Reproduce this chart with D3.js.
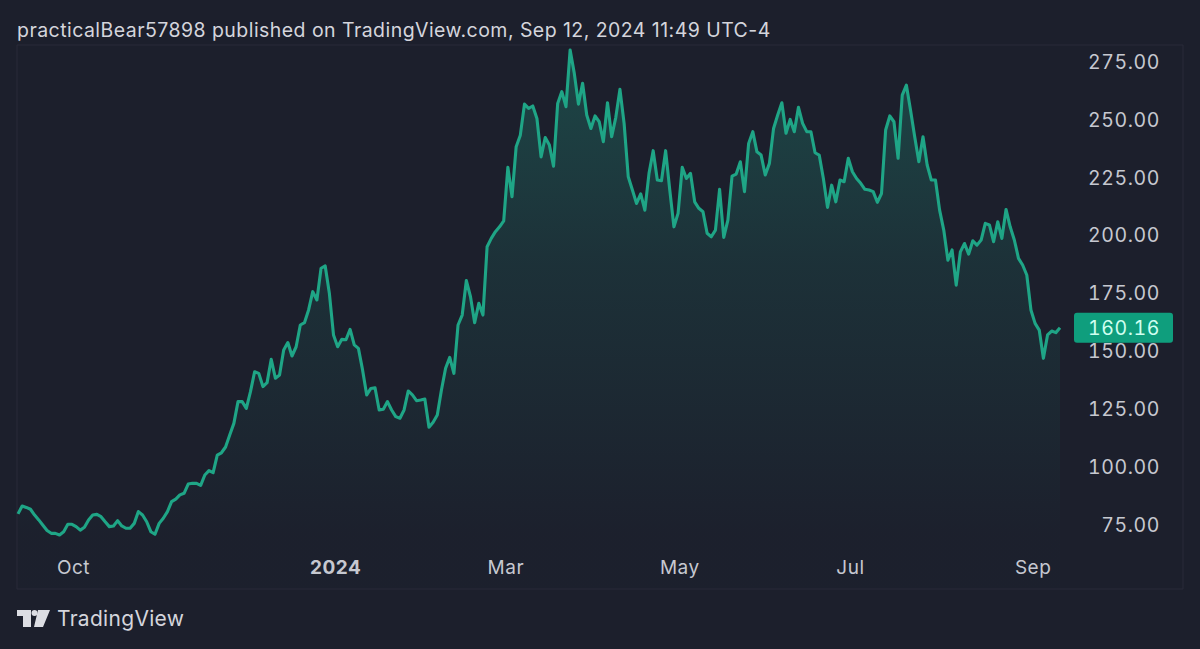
<!DOCTYPE html>
<html>
<head>
<meta charset="utf-8">
<script src="https://cdn.jsdelivr.net/npm/d3@7"></script>
<style>
  html, body { margin: 0; padding: 0; background: #1c1f2c; }
  svg { display: block; }
  text { font-family: Inter, "Noto Sans", sans-serif; }
  .price_label { font-variant-numeric: tabular-nums; }
</style>
</head>
<body>
<svg id="chart" width="1200" height="649"></svg>
<script>
// closing price per trading bar
var prices = [
  79.8, 83.2, 82.6, 81.8, 79.3, 77.2, 74.9, 72.6, 71.4, 71.4,
  70.7, 72.1, 75.3, 75.3, 74.3, 72.8, 74, 77.2, 79.3, 79.6,
  78.6, 76.4, 74.3, 74.6, 76.9, 74.6, 73.6, 73.6, 75.7, 80.8,
  79.3, 76.4, 72.1, 71, 75.7, 77.9, 80.8, 85.1, 86.2, 88,
  88.7, 92.7, 93, 93, 92.1, 96.6, 98.5, 97.6, 105.2, 106.2,
  108.7, 113.9, 118.9, 128.3, 128.3, 125.4, 132.6, 141.2, 140.5, 134.8,
  136.5, 146.6, 138.4, 139.8, 150.6, 153.8, 148, 152, 161.4, 162.4,
  167.9, 175.8, 172.2, 185.9, 186.9, 175.1, 157.1, 152, 155.2, 155,
  159.5, 152.8, 151.3, 142, 131.2, 134, 134.3, 124.7, 125, 128.3,
  124.7, 121.8, 121.1, 124.7, 132.9, 131.2, 128.7, 129, 129.4, 117.2,
  119.4, 122.5, 133.3, 142.7, 147.4, 140.5, 161.4, 165.7, 180.6, 173.6,
  162.4, 170.8, 165.7, 195.2, 198.8, 201.7, 203.8, 206.4, 229.5, 216.8,
  238.4, 243.4, 256.8, 255, 256, 250.6, 234, 242.4, 239.1, 230,
  257.1, 262.2, 255.7, 280.2, 270.1, 256.8, 265.8, 252.1, 246.3, 251.7,
  249.2, 240.6, 257.4, 242.7, 251.1, 263.2, 248.5, 225.4, 219.7, 213.9,
  218, 211, 226.9, 236.7, 224, 223.7, 236.7, 219.7, 203.8, 209.6,
  229.5, 224.7, 226.9, 214.6, 211.8, 210.3, 201, 199.5, 202.4, 220,
  199.2, 206.7, 225.7, 226.6, 231.9, 219, 239.8, 244.9, 236.2, 234.8,
  226.2, 231.2, 246.3, 252.1, 257.4, 244.2, 250.2, 244.9, 255.4, 248.5,
  244.9, 244.9, 235.8, 234.8, 224.7, 212.2, 221.8, 214.6, 224, 223.3,
  233.4, 227.6, 224.7, 222.6, 220, 219.7, 219, 214.4, 218.2, 245.6,
  251.7, 249.2, 233.4, 260.7, 265, 254.2, 242.7, 231.9, 242.7, 230.5,
  224, 224, 211, 202.4, 189.4, 193.8, 178.6, 193, 196.6, 192,
  197.8, 195.9, 198.1, 205.3, 204.6, 197.4, 206, 198.8, 211.3, 203.8,
  198.1, 190.2, 187.3, 183, 167.9, 162.1, 159.2, 147, 157.1, 158.8,
  158.1, 160.16
];
var price_ticks = [75, 100, 125, 150, 175, 200, 225, 250, 275];
var time_tick_bars = [13.25, 76.4, 117.4, 159.3, 200.4, 244.4];
var time_tick_labels = ["Oct", "2024", "Mar", "May", "Jul", "Sep"];
var last_price = 160.16;

var title_text = "practicalBear57898 published on TradingView.com, Sep 12, 2024 11:49 UTC-4";

var plot_left = 17, plot_right = 1183, plot_top = 45, plot_bottom = 589;

var svg = d3.select("#chart");

var x = d3.scaleLinear().domain([0, prices.length - 1]).range([18, 1060]);
var y = d3.scaleLinear().domain([75, 275]).range([525, 62]);

// Frame
svg.append("path")
    .attr("d", "M" + plot_left + "," + plot_bottom + "V" + plot_top + "H" + plot_right + "V" + plot_bottom + "H" + plot_left)
    .attr("fill", "none")
    .attr("stroke", "#282b38")
    .attr("stroke-width", 1);

// Area gradient
var gradient = svg.append("defs").append("linearGradient")
    .attr("id", "area_fill")
    .attr("gradientUnits", "userSpaceOnUse")
    .attr("x1", 0).attr("x2", 0)
    .attr("y1", plot_top).attr("y2", 535);
gradient.append("stop").attr("offset", "0%").attr("stop-color", "#1f8f78").attr("stop-opacity", 0.36);
gradient.append("stop").attr("offset", "45%").attr("stop-color", "#1f8f78").attr("stop-opacity", 0.16);
gradient.append("stop").attr("offset", "100%").attr("stop-color", "#1f8f78").attr("stop-opacity", 0.01);

var area = d3.area()
    .x(function(d, i) { return x(i); })
    .y0(plot_bottom - 1)
    .y1(function(d) { return y(d); });

var line = d3.line()
    .x(function(d, i) { return x(i); })
    .y(function(d) { return y(d); });

svg.append("path").datum(prices)
    .attr("d", area)
    .attr("fill", "url(#area_fill)");

svg.append("path").datum(prices)
    .attr("d", line)
    .attr("fill", "none")
    .attr("stroke", "#1fa586")
    .attr("stroke-width", 3.1)
    .attr("stroke-linejoin", "round");

// Price axis
var y_axis = d3.axisRight(y)
    .tickValues(price_ticks)
    .tickSize(0)
    .tickPadding(0)
    .tickFormat(d3.format(".2f"));

var y_group = svg.append("g")
    .attr("transform", "translate(1160,0)")
    .call(y_axis);
y_group.select(".domain").remove();
y_group.selectAll("text")
    .attr("class", "price_label")
    .attr("text-anchor", "end")
    .attr("font-size", 19.5)
    .attr("letter-spacing", 0.6)
    .attr("fill", "#c6c8d0");

// Last price tag
svg.append("rect")
    .attr("x", 1074).attr("y", y(last_price) - 15)
    .attr("width", 99).attr("height", 30)
    .attr("rx", 3)
    .attr("fill", "#0f9e7d");
svg.append("text")
    .attr("class", "price_label")
    .attr("x", 1160).attr("y", y(last_price))
    .attr("dy", "0.35em")
    .attr("text-anchor", "end")
    .attr("font-size", 19.5)
    .attr("letter-spacing", 0.6)
    .attr("fill", "#d0fff0")
    .text(d3.format(".2f")(last_price));

// Time axis
var x_axis = d3.axisBottom(x)
    .tickValues(time_tick_bars)
    .tickSize(0)
    .tickPadding(0)
    .tickFormat(function(d, i) { return time_tick_labels[i]; });

var x_group = svg.append("g")
    .attr("transform", "translate(0,560)")
    .call(x_axis);
x_group.select(".domain").remove();
x_group.selectAll("text")
    .attr("font-size", 19)
    .attr("letter-spacing", 0.5)
    .attr("fill", "#c6c8d0")
    .attr("font-weight", function(d, i) { return time_tick_labels[i] === "2024" ? 700 : 400; });

// Title
svg.append("text")
    .attr("x", 17).attr("y", 37)
    .attr("font-size", 19.5)
    .attr("letter-spacing", 0.45)
    .attr("fill", "#d4d5dc")
    .text(title_text);

// TradingView mark
svg.append("path")
    .attr("d", "M17,610H31V627H23V616H17Z M38,610H50L43,627H34Z")
    .attr("fill", "#dcdde3");
svg.append("circle")
    .attr("cx", 34.5).attr("cy", 613).attr("r", 3)
    .attr("fill", "#dcdde3");
svg.append("text")
    .attr("x", 57).attr("y", 626)
    .attr("font-size", 21)
    .attr("letter-spacing", 0.3)
    .attr("fill", "#d4d5dc")
    .text("TradingView");
</script>
</body>
</html>
